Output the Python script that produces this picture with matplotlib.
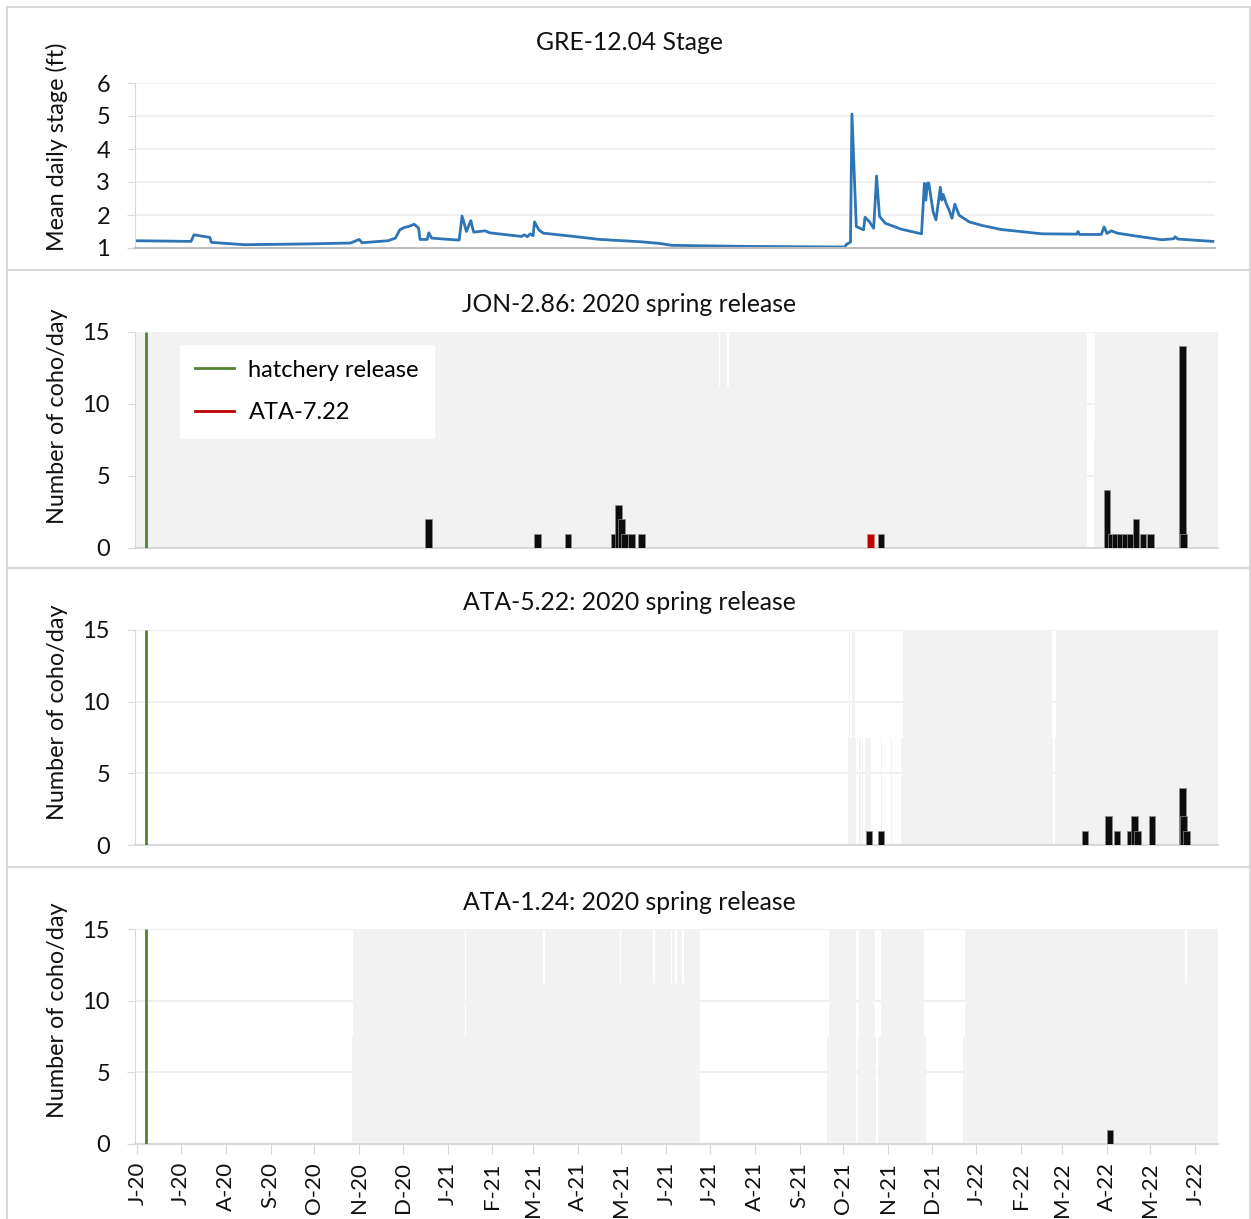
import matplotlib
matplotlib.use('Agg')
import matplotlib.pyplot as plt
import matplotlib.dates as mdates
from matplotlib.lines import Line2D
from matplotlib.patches import Rectangle
import pandas as pd

plt.rcParams['font.family'] = ['Lato', 'DejaVu Sans']

# ---- stage (GRE-12.04) ----
stage_dates = [
    "2020-05-30", "2020-06-20", "2020-07-08", "2020-07-10", "2020-07-21", "2020-07-22", "2020-08-14",
    "2020-09-21", "2020-10-26", "2020-11-01", "2020-11-03", "2020-11-21", "2020-11-26",
    "2020-11-29", "2020-12-02", "2020-12-05", "2020-12-09", "2020-12-12", "2020-12-13",
    "2020-12-18", "2020-12-19", "2020-12-21", "2021-01-02", "2021-01-09", "2021-01-11",
    "2021-01-14", "2021-01-17", "2021-01-19", "2021-01-27", "2021-01-30", "2021-02-13",
    "2021-02-21", "2021-02-23", "2021-02-25", "2021-02-27", "2021-03-01", "2021-03-02",
    "2021-03-05", "2021-03-08", "2021-03-27", "2021-04-16", "2021-05-14", "2021-05-27",
    "2021-06-05", "2021-07-22", "2021-08-25", "2021-10-02", "2021-10-03", "2021-10-06", "2021-10-07",
    "2021-10-10", "2021-10-15", "2021-10-16", "2021-10-19", "2021-10-22", "2021-10-24",
    "2021-10-26", "2021-10-30", "2021-11-10", "2021-11-24", "2021-11-26", "2021-11-27",
    "2021-11-28", "2021-11-29", "2021-12-02", "2021-12-04", "2021-12-07", "2021-12-08",
    "2021-12-09", "2021-12-11", "2021-12-13", "2021-12-15", "2021-12-17", "2021-12-20",
    "2021-12-27", "2022-01-05", "2022-01-18", "2022-02-15", "2022-03-11", "2022-03-12", "2022-03-13",
    "2022-03-28", "2022-03-30", "2022-04-01", "2022-04-04", "2022-04-08", "2022-04-26",
    "2022-05-09", "2022-05-17", "2022-05-18", "2022-05-20", "2022-06-13",
]
stage_ft = [
    1.22, 1.21, 1.20, 1.40, 1.32, 1.17, 1.10,
    1.12, 1.15, 1.26, 1.16, 1.22, 1.30,
    1.55, 1.62, 1.65, 1.72, 1.60, 1.26,
    1.26, 1.46, 1.30, 1.26, 1.24, 1.97,
    1.50, 1.83, 1.48, 1.52, 1.46, 1.39,
    1.35, 1.40, 1.34, 1.43, 1.37, 1.79,
    1.55, 1.45, 1.36, 1.26, 1.19, 1.14,
    1.08, 1.05, 1.04, 1.03, 1.10, 1.18, 5.06,
    1.65, 1.55, 1.93, 1.80, 1.60, 3.18,
    1.96, 1.75, 1.57, 1.43, 2.96, 2.45,
    2.96, 2.97, 2.10, 1.85, 2.84, 2.45,
    2.62, 2.35, 2.15, 1.90, 2.33, 1.99,
    1.79, 1.68, 1.56, 1.43, 1.42, 1.50, 1.41,
    1.41, 1.64, 1.44, 1.52, 1.45, 1.33,
    1.25, 1.28, 1.34, 1.27, 1.20,
]

release_date = "2020-06-07"

# ---- detections (coho/day) ----
jon_dates = ["2020-12-19", "2021-03-04", "2021-03-25", "2021-04-26", "2021-04-29", "2021-05-01",
             "2021-05-03", "2021-05-08", "2021-05-15", "2021-10-27", "2022-04-01", "2022-04-04",
             "2022-04-07", "2022-04-10", "2022-04-14", "2022-04-17", "2022-04-21", "2022-04-26",
             "2022-05-01", "2022-05-23", "2022-05-24"]
jon_counts = [2, 1, 1, 1, 3, 2,
              1, 1, 1, 1, 4, 1,
              1, 1, 1, 1, 2, 1,
              1, 14, 1]
jon_ata722_dates = ["2021-10-20"]
jon_ata722_counts = [1]

ata522_dates = ["2021-10-19", "2021-10-27", "2022-03-17", "2022-04-02", "2022-04-08", "2022-04-17",
                "2022-04-20", "2022-04-22", "2022-05-02", "2022-05-23", "2022-05-24", "2022-05-26"]
ata522_counts = [1, 1, 1, 2, 1, 1,
                 2, 1, 2, 4, 2, 1]

ata124_dates = ["2022-04-03"]
ata124_counts = [1]

# ---- antenna coverage (grey background), start / end / level ----
jon_cov_start = ["2020-05-28", "2021-07-07", "2021-07-08", "2021-07-13", "2021-07-14", "2022-03-23", "2022-03-24"]
jon_cov_end = ["2021-07-07", "2021-07-08", "2021-07-13", "2021-07-14", "2022-03-18", "2022-03-24", "2022-06-18"]
jon_cov_level = [15, 11.25, 15, 11.25, 15, 7.5, 15]

ata522_cov_start = ["2021-10-04", "2021-10-05", "2021-10-06", "2021-10-07", "2021-10-09", "2021-10-12",
                    "2021-10-14", "2021-10-16", "2021-10-27", "2021-11-03", "2021-11-10", "2021-11-11",
                    "2022-02-22", "2022-02-24", "2022-02-25"]
ata522_cov_end = ["2021-10-05", "2021-10-06", "2021-10-07", "2021-10-09", "2021-10-10", "2021-10-13",
                  "2021-10-15", "2021-10-20", "2021-10-28", "2021-11-04", "2021-11-11", "2022-02-22",
                  "2022-02-23", "2022-02-25", "2022-06-18"]
ata522_cov_level = [7.5, 15, 7.5, 15, 7.5, 7.5,
                    7.5, 7.5, 7.5, 7.5, 7.5, 15,
                    7.5, 7.5, 15]

ata124_cov_start = ["2020-10-27", "2020-10-28", "2021-01-13", "2021-01-14", "2021-03-08", "2021-03-09",
                    "2021-04-30", "2021-05-01", "2021-05-23", "2021-05-24", "2021-06-04", "2021-06-05",
                    "2021-06-07", "2021-06-08", "2021-06-12", "2021-06-13", "2021-09-20", "2021-09-21",
                    "2021-10-11", "2021-10-12", "2021-10-23", "2021-10-25", "2021-10-27", "2021-11-26",
                    "2021-12-23", "2021-12-24", "2022-05-25", "2022-05-26"]
ata124_cov_end = ["2020-10-28", "2021-01-13", "2021-01-14", "2021-03-08", "2021-03-09", "2021-04-30",
                  "2021-05-01", "2021-05-23", "2021-05-24", "2021-06-04", "2021-06-05", "2021-06-07",
                  "2021-06-08", "2021-06-12", "2021-06-13", "2021-06-24", "2021-09-21", "2021-10-10",
                  "2021-10-12", "2021-10-23", "2021-10-24", "2021-10-27", "2021-11-26", "2021-11-27",
                  "2021-12-24", "2022-05-25", "2022-05-26", "2022-06-18"]
ata124_cov_level = [7.5, 15, 7.5, 15, 11.25, 15,
                    11.25, 15, 11.25, 15, 11.25, 15,
                    11.25, 15, 11.25, 15, 7.5, 15,
                    7.5, 15, 7.5, 7.5, 15, 7.5,
                    7.5, 15, 11.25, 15]

month_labels = ["J-20", "J-20", "A-20", "S-20", "O-20", "N-20", "D-20", "J-21", "F-21", "M-21",
                "A-21", "M-21", "J-21", "J-21", "A-21", "S-21", "O-21", "N-21", "D-21", "J-22",
                "F-22", "M-22", "A-22", "M-22", "J-22"]

GREEN = '#548235'
RED = '#c00000'
GREY_BG = '#f2f2f2'
LINE_GREY = '#d9d9d9'
TXT = '#111111'
W, H = 1251, 1219


def dnum(dates):
    return mdates.date2num(pd.to_datetime(dates))


def add_ax(fig, x0, y0, x1, y1):
    return fig.add_axes([x0 / W, 1 - y1 / H, (x1 - x0) / W, (y1 - y0) / H])


def style_axes(ax):
    for side in ['top', 'right']:
        ax.spines[side].set_visible(False)
    ax.spines['left'].set_color(LINE_GREY)
    ax.spines['bottom'].set_color(LINE_GREY)
    ax.spines['bottom'].set_linewidth(1.5)
    ax.set_axisbelow(True)
    ax.yaxis.grid(True, color='#ededed', linewidth=1.2)
    ax.tick_params(axis='y', length=6, color=LINE_GREY, pad=12, labelsize=17, labelcolor=TXT)
    ax.tick_params(axis='x', length=0, labelbottom=False)


def count_panel(ax, cov_start, cov_end, cov_level, dates, counts):
    left = dnum(cov_start)
    ax.bar(left, cov_level, width=dnum(cov_end) - left, align='edge',
           color=GREY_BG, linewidth=0, antialiased=False, zorder=1)
    ax.vlines(dnum([release_date]), 0, 15, color=GREEN, linewidth=2, zorder=3)
    ax.bar(dnum(dates), counts, width=4.5, color='#0d0d0d',
           edgecolor='#8c8c8c', linewidth=0.5, zorder=4)
    ax.set_ylim(0, 15)
    ax.set_yticks([0, 5, 10, 15])
    style_axes(ax)


fig = plt.figure(figsize=(W / 100, H / 100), dpi=100)

# panel frames
for y0, y1 in [(7, 270), (270, 568), (568, 867), (867, 1225)]:
    fig.patches.append(Rectangle((7 / W, 1 - y1 / H), 1243 / W, (y1 - y0) / H,
                                 transform=fig.transFigure, fill=False,
                                 edgecolor=LINE_GREY, linewidth=1.5))

x_left = dnum(["2020-05-30 08:00"])[0]
x_right = dnum(["2022-06-16 16:00"])[0]

# stage
ax1 = add_ax(fig, 135, 83, 1215, 248)
ax1.plot(dnum(stage_dates), stage_ft, color='#2e75b6', linewidth=2)
ax1.set_xlim(x_left, dnum(["2022-06-14 12:00"])[0])
ax1.set_ylim(1, 6)
ax1.set_yticks([1, 2, 3, 4, 5, 6])
style_axes(ax1)
ax1.spines['bottom'].set_color('#bfbfbf')

ax2 = add_ax(fig, 135, 332, 1218, 548)
count_panel(ax2, jon_cov_start, jon_cov_end, jon_cov_level, jon_dates, jon_counts)
ax2.bar(dnum(jon_ata722_dates), jon_ata722_counts, width=4.5, color=RED,
        edgecolor='#e08080', linewidth=0.5, zorder=4)

ax3 = add_ax(fig, 135, 630, 1218, 845)
count_panel(ax3, ata522_cov_start, ata522_cov_end, ata522_cov_level, ata522_dates, ata522_counts)

ax4 = add_ax(fig, 135, 929, 1218, 1144)
count_panel(ax4, ata124_cov_start, ata124_cov_end, ata124_cov_level, ata124_dates, ata124_counts)

tick_dates = pd.date_range("2020-06-01", "2022-06-01", freq="MS")
for ax in (ax2, ax3, ax4):
    ax.set_xlim(x_left, x_right)
    ax.set_xticks(dnum(tick_dates))
ax4.set_xticklabels(month_labels, rotation=90)
ax4.tick_params(axis='x', length=7, color=LINE_GREY, labelbottom=True, labelsize=16,
                labelcolor=TXT, pad=6)

# titles and axis labels
titles = [(42, "GRE-12.04 Stage"), (305, "JON-2.86: 2020 spring release"),
          (603, "ATA-5.22: 2020 spring release"), (903, "ATA-1.24: 2020 spring release")]
for y, t in titles:
    fig.text(629 / W, 1 - y / H, t, ha='center', va='center', fontsize=17.8, color=TXT)

ylabels = [(147, "Mean daily stage (ft)"), (416, "Number of coho/day"),
           (712, "Number of coho/day"), (1010, "Number of coho/day")]
for y, t in ylabels:
    fig.text(57 / W, 1 - y / H, t, ha='center', va='center', rotation=90, fontsize=16.8,
             color=TXT)

handles = [Line2D([], [], color=GREEN, linewidth=2), Line2D([], [], color=RED, linewidth=2)]
ax2.legend(handles, ['hatchery release', 'ATA-7.22'], loc='upper left',
           bbox_to_anchor=(180 / W, 1 - 345 / H), bbox_transform=fig.transFigure,
           frameon=True, fancybox=False, edgecolor='white', facecolor='white', framealpha=1,
           fontsize=17, handlelength=1.65, handletextpad=0.63, labelspacing=0.9,
           borderpad=0.62, borderaxespad=0)

fig.savefig('out.png', dpi=100)
